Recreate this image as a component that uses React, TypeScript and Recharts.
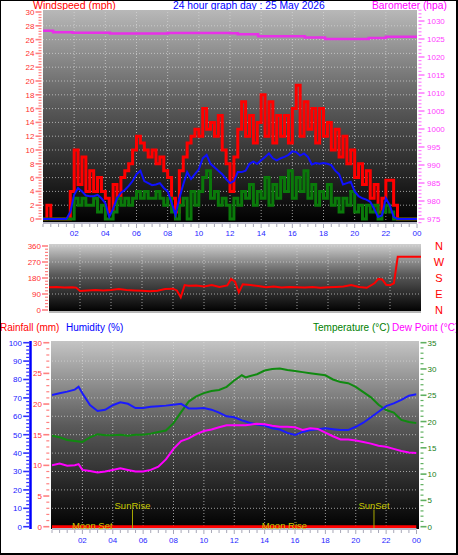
import React from 'react';
import { LineChart, Line, XAxis, YAxis, ReferenceLine } from 'recharts';

const FONT = '"Liberation Sans", Arial, sans-serif';

// wind, one sample every 15 minutes from 00:00 to 24:00 (mph)
const gust = [
  0, 2, 0, 0, 0, 0, 0, 4, 10, 5, 9, 4, 7, 4, 6, 4, 3, 1, 5, 3, 6, 7, 8, 10, 12,
  11, 10, 9, 10, 8, 9, 7, 6, 3, 1, 7, 9, 11, 12, 13, 12, 16, 13, 14, 12, 15, 10, 8,
  4, 9, 13, 17, 12, 15, 11, 14, 18, 12, 17, 11, 15, 12, 15, 11, 16, 19.4, 12, 17, 13,
  16, 11, 16, 12, 14, 10, 13, 9, 12, 8, 10, 6, 8, 5, 7, 3, 5, 1, 3, 5.6, 5.6, 2, 0,
  0, 0, 0, 0, 0,
];
const avgSpeed = [
  0, 0, 0, 0, 0, 0, 0, 1, 3.5, 4.5, 4, 3.4, 3.3, 3.3, 3.5, 3, 2.3, 0.3, 1.5, 3, 3.8,
  4.2, 4.8, 5.5, 6.5, 7, 5.5, 5.2, 4.9, 5, 5.2, 4.5, 4, 2.4, 0.6, 3, 5, 6.8, 5.8, 6.5,
  7.2, 8.8, 9.3, 8, 7.5, 7, 6.5, 5.8, 5.2, 5.5, 6.8, 6.8, 7, 8, 8.3, 8, 8.5, 9, 9.5,
  8.8, 8.5, 8.8, 9, 9.3, 9.8, 9.7, 9.2, 9.5, 9, 7.9, 8.1, 8, 8.1, 8, 7.8, 7, 6.5, 5,
  5.2, 5.4, 4, 3.3, 3, 2.8, 2.5, 1.5, 0.3, 0.5, 3, 2, 0.3, 0, 0, 0, 0, 0, 0,
];
const windSpeed = [
  0, 0, 0, 0, 0, 0, 0, 0, 3, 2, 3, 2, 2, 3, 1, 2, 0, 0, 1, 3, 2, 3, 2, 3, 4, 3, 4, 3,
  3, 4, 3, 2, 3, 1, 0, 2, 3, 0, 4, 2, 4, 6, 7, 3, 4, 2, 3, 2, 0, 3, 2, 4, 3, 5, 2, 4,
  3, 6, 2, 5, 3, 6, 4, 7, 3, 6, 4, 7, 3, 5, 2, 4, 3, 5, 2, 3, 1, 3, 2, 4, 1, 2, 0, 2,
  1, 2, 0, 1, 2, 1, 0, 0, 0, 0, 0, 0, 0,
];

const baroHours = [0, 0.65, 1.9, 4.3, 8, 12, 12.5, 13.8, 16.8, 18.1, 20.9, 22, 24];
const baroHpa = [1027.3, 1026.9, 1026.75, 1026.5, 1026.65, 1026.6, 1026.3, 1025.75, 1025.4, 1025.0, 1025.3, 1025.6, 1025.6];

const dirHours = [
  0, 0.5, 1, 1.5, 1.75, 2, 2.5, 3, 3.5, 4, 4.5, 5, 5.5, 6, 6.5, 7, 7.5, 8, 8.25, 8.5,
  8.75, 9, 9.5, 10, 10.5, 11, 11.5, 11.75, 12, 12.25, 12.5, 13, 13.5, 14, 14.5, 15,
  15.5, 16, 16.5, 17, 17.5, 18, 18.5, 19, 19.5, 20, 20.5, 21, 21.25, 21.5, 21.75, 22,
  22.25, 22.5, 23, 23.5, 24,
];
const dirDeg = [
  128, 130, 127, 128, 126, 107, 110, 112, 110, 113, 118, 112, 110, 108, 105, 108, 118,
  120, 110, 72, 140, 136, 138, 132, 140, 130, 138, 175, 160, 100, 145, 140, 135, 128,
  132, 126, 130, 128, 126, 130, 125, 128, 130, 132, 140, 130, 125, 150, 175, 172, 142,
  140, 150, 300, 300, 300, 300,
];

const wxHours = [
  0, 0.5, 1, 1.5, 1.75, 2, 2.5, 3, 3.5, 4, 4.5, 5, 5.5, 6, 6.5, 7, 7.5, 8, 8.5, 9, 9.5,
  10, 10.5, 11, 11.5, 12, 12.5, 12.75, 13, 13.5, 14, 14.5, 15, 15.5, 16, 16.5, 17, 17.5,
  18, 18.5, 19, 19.5, 20, 20.5, 21, 21.5, 22, 22.5, 23, 23.5, 24,
];
const temperature = [
  17.3, 17.0, 16.5, 16.3, 16.2, 16.1, 17.0, 17.6, 17.4, 17.4, 17.5, 17.3, 17.5, 17.5,
  17.7, 18.0, 18.3, 19.7, 21.8, 23.8, 24.8, 25.4, 25.8, 26.0, 26.6, 27.8, 28.8, 28.4,
  28.6, 29.0, 29.7, 30.0, 30.1, 29.8, 29.6, 29.4, 29.2, 29.0, 28.8, 28.0, 27.5, 27.3,
  26.6, 25.6, 24.6, 23.2, 22.2, 21.7, 20.3, 19.9, 19.7,
];
const humidity = [
  71.6, 72.5, 73.4, 74.5, 76.1, 72.5, 66.1, 62.9, 63.5, 66.0, 67.6, 66.8, 64.5, 64.5,
  65.2, 65.5, 65.8, 66.3, 66.8, 64.3, 64.3, 64.5, 63.6, 62.0, 60.0, 59.5, 57.8, 57.2,
  56.5, 55.6, 55.0, 53.5, 52.8, 51.0, 49.8, 51.5, 52.5, 53.0, 53.5, 53.0, 52.5, 52.5,
  54.3, 56.5, 59.5, 62.5, 65.5, 67.0, 68.9, 71.2, 72.0,
];
const dewPoint = [
  11.7, 12.0, 11.6, 11.7, 11.9, 10.8, 10.6, 10.3, 10.5, 10.8, 11.1, 10.8, 10.5, 10.5,
  10.8, 11.4, 12.8, 14.8, 16.3, 16.8, 17.6, 18.2, 18.5, 18.9, 19.3, 19.3, 19.3, 19.3,
  19.4, 19.6, 19.5, 19.2, 19.0, 19.0, 18.9, 18.4, 18.7, 18.6, 17.9, 17.2, 16.6, 16.6,
  16.4, 16.1, 15.8, 15.4, 15.2, 14.8, 14.4, 14.1, 14.0,
];

const rainHours = [0, 6, 12, 18, 24];
const rainMm = [0, 0, 0, 0, 0];

const hourLabels = ['02', '04', '06', '08', '10', '12', '14', '16', '18', '20', '22', '00'];
const gridHours = [2, 4, 6, 8, 10, 12, 14, 16, 18, 20, 22];
const compass = ['N', 'E', 'S', 'W', 'N'];
const sunEvents = [{ name: 'SunRise', h: 5.3 }, { name: 'SunSet', h: 21.2 }];
const moonEvents = [{ name: 'Moon Set', h: 2.65 }, { name: 'Moon Rise', h: 15.3 }];

const windData = gust.map((g, i) => ({ h: i / 4, gust: g, avg: avgSpeed[i], speed: windSpeed[i] }));
const baroData = baroHours.map((h, i) => ({ h, p: baroHpa[i] }));
const dirData = dirHours.map((h, i) => ({ h, d: dirDeg[i] }));
const wxData = wxHours.map((h, i) => ({ h, t: temperature[i], hum: humidity[i], dew: dewPoint[i] }));
const rainData = rainHours.map((h, i) => ({ h, r: rainMm[i] }));

const xTicks = Array.from({ length: 49 }, (_, i) => i / 2);
const windTicks = Array.from({ length: 76 }, (_, i) => Math.round(i * 4) / 10);
const baroTicks = Array.from({ length: 60 }, (_, i) => 974 + i);
const dirTicks = Array.from({ length: 21 }, (_, i) => i * 18);
const humTicks = Array.from({ length: 51 }, (_, i) => i * 2);
const rainTicks = Array.from({ length: 31 }, (_, i) => i);
const tempTicks = Array.from({ length: 36 }, (_, i) => i);

const GRID = { stroke: '#d8d8d8', strokeDasharray: '1 2', strokeOpacity: 0.7 };

type TickOpts = { ax: number; side: 'left' | 'right'; lx: number; color: string; dash: string; step: number };

const yTick = (o: TickOpts) => (p: any) => {
  const v = Math.round(p.payload.value * 100) / 100;
  const major = Math.abs(v / o.step - Math.round(v / o.step)) < 1e-6;
  const len = major ? 6 : 3;
  const x1 = o.side === 'left' ? o.ax - len : o.ax;
  const x2 = o.side === 'left' ? o.ax : o.ax + len;
  return (
    <g>
      <line x1={x1} x2={x2} y1={p.y} y2={p.y} stroke={o.dash} strokeWidth={major ? 1.6 : 1.2} />
      {major && (
        <text x={o.lx} y={p.y + 3} textAnchor={o.side === 'left' ? 'end' : 'start'} fill={o.color} fontSize={8}>
          {v}
        </text>
      )}
    </g>
  );
};

const xTick = (ay: number, ly: number) => (p: any) => {
  const h = p.payload.value;
  const major = h > 0 && h % 2 === 0;
  return (
    <g>
      <line x1={p.x} x2={p.x} y1={ay} y2={ay + (major ? 4 : 3)} stroke="#a8a8b8" />
      {major && (
        <text x={p.x} y={ly} textAnchor="middle" fill="#2828ff" fontSize={8}>
          {hourLabels[h / 2 - 1]}
        </text>
      )}
    </g>
  );
};

const compassTick = (p: any) => (
  <text x={439} y={p.y + 4} textAnchor="middle" fill="#ff0000" fontSize={11}>
    {compass[Math.round(p.payload.value / 90)]}
  </text>
);

const bg = (left: number, top: number, width: number, height: number, from: string) => (
  <div style={{ position: 'absolute', left, top, width, height, background: `linear-gradient(${from}, #5a5a5a 45%, #000)` }} />
);

export default function App() {
  const abs: React.CSSProperties = { position: 'absolute', left: 0, top: 0 };
  return (
    <div style={{ position: 'absolute', left: 0, top: 0, width: 458, height: 555, background: '#fff', overflow: 'hidden', fontFamily: FONT }}>
      <svg width={458} height={555} style={abs}>
        <text x={33} y={9} fontSize={10.5} fill="#ff0000">Windspeed (mph)</text>
        <text x={173} y={9} fontSize={10.3} fill="#0000ff">24 hour graph day : 25 May 2026</text>
        <text x={372} y={9} fontSize={10.3} fill="#ff00ff">Barometer (hpa)</text>
        <text x={0} y={331} fontSize={10} fill="#ff0000">Rainfall (mm)</text>
        <text x={66} y={331} fontSize={10} fill="#0000ff">Humidity (%)</text>
        <text x={313} y={331} fontSize={10} fill="#008000">Temperature (°C)</text>
        <text x={392} y={331} fontSize={10} fill="#ff00ff">Dew Point (°C)</text>
      </svg>

      {bg(43, 10, 374, 213, '#b8b8b8')}
      {bg(49, 244, 372, 68, '#cfcfcf')}
      {bg(51, 341, 368, 188, '#c4c4c4')}

      {/* wind speed + barometer */}
      <div style={abs}>
        <LineChart width={458} height={555} margin={{ top: 10, right: 0, bottom: 312, left: 0 }}>
          <XAxis type="number" dataKey="h" domain={[0, 24]} allowDataOverflow ticks={xTicks} interval={0} height={20}
            axisLine={{ stroke: '#b8b8c8', strokeWidth: 2 }} tickLine={false} tick={xTick(224, 236)} />
          <YAxis yAxisId="w" orientation="left" width={43} domain={[-0.58, 30.29]} allowDataOverflow ticks={windTicks}
            interval={0} axisLine={false} tickLine={false} tick={yTick({ ax: 41.5, side: 'left', lx: 34.5, color: '#ff3030', dash: '#ff8080', step: 2 })} />
          <YAxis yAxisId="b" orientation="right" width={41} domain={[973.89, 1033.06]} allowDataOverflow ticks={baroTicks}
            interval={0} axisLine={false} tickLine={false} tick={yTick({ ax: 418.5, side: 'right', lx: 427, color: '#ff40ff', dash: '#ff80ff', step: 5 })} />
          {[2, 4, 6, 8, 10, 12, 14, 16, 18, 20, 22, 24, 26, 28].map((v) => (
            <ReferenceLine key={'wy' + v} yAxisId="w" y={v} {...GRID} />
          ))}
          {gridHours.map((h) => (
            <ReferenceLine key={'wx' + h} yAxisId="w" x={h} {...GRID} />
          ))}
          <Line yAxisId="b" data={baroData} dataKey="p" type="stepAfter" stroke="#e830e8" strokeWidth={2.5} dot={false} activeDot={false} isAnimationActive={false} />
          <Line yAxisId="w" data={windData} dataKey="gust" type="stepAfter" stroke="#ff0000" strokeWidth={3} dot={false} activeDot={false} isAnimationActive={false} />
          <Line yAxisId="w" data={windData} dataKey="speed" type="stepAfter" stroke="#0a7a0a" strokeWidth={3} dot={false} activeDot={false} isAnimationActive={false} />
          <Line yAxisId="w" data={windData} dataKey="avg" type="linear" stroke="#1010ff" strokeWidth={2} dot={false} activeDot={false} isAnimationActive={false} />
        </LineChart>
      </div>

      {/* wind direction */}
      <div style={abs}>
        <LineChart width={458} height={555} margin={{ top: 244, right: 0, bottom: 242, left: 0 }}>
          <XAxis type="number" dataKey="h" domain={[0, 24]} allowDataOverflow ticks={xTicks} height={1}
            axisLine={{ stroke: '#b8b8b8', strokeWidth: 2 }} tickLine={false} tick={false} />
          <YAxis yAxisId="d" orientation="left" width={49} domain={[-11.25, 371.25]} allowDataOverflow ticks={dirTicks}
            interval={0} axisLine={false} tickLine={false} tick={yTick({ ax: 48, side: 'left', lx: 41, color: '#ff3030', dash: '#ff8080', step: 90 })} />
          <YAxis yAxisId="c" orientation="right" width={37} domain={[-11.25, 371.25]} allowDataOverflow ticks={[0, 90, 180, 270, 360]}
            interval={0} axisLine={false} tickLine={false} tick={compassTick} />
          {[90, 180, 270, 360].map((v) => (
            <ReferenceLine key={'dy' + v} yAxisId="d" y={v} {...GRID} />
          ))}
          {gridHours.map((h) => (
            <ReferenceLine key={'dx' + h} yAxisId="d" x={h} {...GRID} />
          ))}
          <Line yAxisId="d" data={dirData} dataKey="d" type="linear" stroke="#ff0000" strokeWidth={2} dot={false} activeDot={false} isAnimationActive={false} />
        </LineChart>
      </div>

      {/* rain, humidity, temperature, dew point */}
      <div style={abs}>
        <LineChart width={458} height={555} margin={{ top: 341, right: 0, bottom: 6, left: 0 }}>
          <XAxis type="number" dataKey="h" domain={[0, 24]} allowDataOverflow ticks={xTicks} interval={0} height={20}
            axisLine={{ stroke: '#b8b8c8', strokeWidth: 2 }} tickLine={false} tick={xTick(530, 542.5)} />
          <YAxis yAxisId="b_hum" orientation="left" width={30.5} domain={[-1.25, 100.92]} allowDataOverflow ticks={humTicks}
            interval={0} axisLine={{ stroke: '#0000ff', strokeWidth: 2.5 }} tickLine={false}
            tick={yTick({ ax: 29.2, side: 'left', lx: 22, color: '#2020ff', dash: '#3030ff', step: 10 })} />
          <YAxis yAxisId="a_rain" orientation="left" width={21.5} domain={[-0.375, 30.28]} allowDataOverflow ticks={rainTicks}
            interval={0} axisLine={false} tickLine={false} tick={yTick({ ax: 49.3, side: 'left', lx: 42, color: '#ff3030', dash: '#ff8080', step: 5 })} />
          <YAxis yAxisId="temp" orientation="right" width={41.5} domain={[-0.44, 35.32]} allowDataOverflow ticks={tempTicks}
            interval={0} axisLine={false} tickLine={false} tick={yTick({ ax: 420.5, side: 'right', lx: 427.5, color: '#208020', dash: '#60b060', step: 5 })} />
          {[10, 20, 30, 40, 50, 60, 70, 80, 90].map((v) => (
            <ReferenceLine key={'hy' + v} yAxisId="b_hum" y={v} {...GRID} />
          ))}
          {gridHours.map((h) => (
            <ReferenceLine key={'hx' + h} yAxisId="b_hum" x={h} {...GRID} />
          ))}
          <Line yAxisId="temp" data={wxData} dataKey="t" type="linear" stroke="#108a10" strokeWidth={2} dot={false} activeDot={false} isAnimationActive={false} />
          <Line yAxisId="b_hum" data={wxData} dataKey="hum" type="linear" stroke="#1a1aff" strokeWidth={2} dot={false} activeDot={false} isAnimationActive={false} />
          <Line yAxisId="temp" data={wxData} dataKey="dew" type="linear" stroke="#ff00ff" strokeWidth={2} dot={false} activeDot={false} isAnimationActive={false} />
          <Line yAxisId="a_rain" data={rainData} dataKey="r" type="linear" stroke="#ff0000" strokeWidth={3} dot={false} activeDot={false} isAnimationActive={false} />
          {sunEvents.map((e) => (
            <ReferenceLine key={e.name} yAxisId="b_hum" segment={[{ x: e.h, y: 9.4 }, { x: e.h, y: -1.2 }]} stroke="#a8a800"
              label={{ value: e.name, position: 'top', offset: 0, fill: '#c8c800', fontSize: 9.5 }} />
          ))}
          {moonEvents.map((e) => (
            <ReferenceLine key={e.name} yAxisId="b_hum" segment={[{ x: e.h, y: -1.2 }, { x: e.h, y: -1.1 }]} stroke="none"
              label={{ value: e.name, position: 'top', offset: 0, fill: '#c8c800', fontSize: 9.5 }} />
          ))}
        </LineChart>
      </div>

      <div style={{ position: 'absolute', left: 0, top: 0, width: 458, height: 555, boxSizing: 'border-box', borderStyle: 'solid', borderColor: '#000', borderWidth: '1px 2px 2px 1px' }} />
    </div>
  );
}
